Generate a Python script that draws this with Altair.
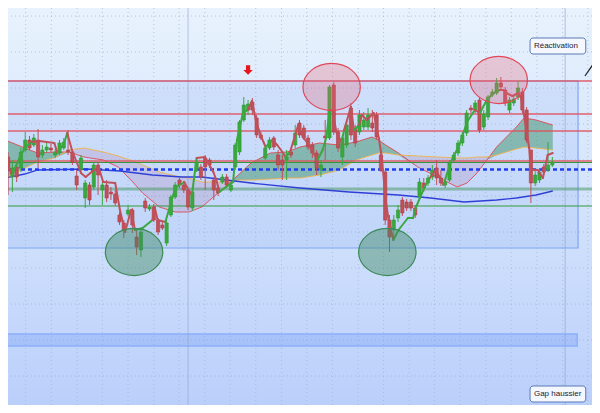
import altair as alt
import pandas as pd

# ---------------- data (prices) ----------------
bar_index = list(range(128))

open_ = [46.3, 44.3, 45.3, 45.2, 47.0, 48.0, 47.5, 48.0, 46.5, 47.0,
         47.2, 46.5, 46.7, 47.2, 47.0, 46.8, 44.4, 45.0, 42.2, 43.5,
         43.3, 45.5, 43.0, 43.5, 42.8, 42.6, 40.5, 39.7, 40.6, 41.0,
         38.3, 37.0, 41.9, 41.1, 41.3, 40.0, 39.5, 37.7, 40.5, 42.3,
         44.0, 43.5, 43.0, 41.2, 45.0, 45.3, 46.2, 46.0, 44.0, 43.2,
         43.8, 44.3, 43.0, 45.3, 46.8, 50.0, 51.0, 51.8, 50.2, 48.5,
         46.2, 47.2, 48.2, 46.5, 46.0, 46.0, 46.8, 47.5, 49.7, 49.2,
         48.2, 47.5, 46.7, 45.0, 48.4, 48.2, 53.5, 48.8, 46.3, 47.5,
         51.2, 49.2, 48.8, 49.3, 49.3, 49.7, 50.5, 46.5, 44.8, 40.0,
         39.0, 40.2, 42.0, 41.8, 41.8, 41.2, 42.3, 43.7, 43.7, 44.3,
         45.2, 44.2, 43.5, 44.0, 46.0, 46.7, 47.7, 48.7, 51.2, 51.0,
         52.0, 49.3, 50.3, 52.5, 52.7, 53.7, 53.0, 51.0, 51.7, 52.3,
         52.8, 51.0, 47.0, 43.7, 44.0, 45.3, 45.0, 45.5]

close = [45.0, 45.2, 44.3, 46.8, 48.0, 47.2, 48.2, 46.3, 47.0, 47.3,
         47.0, 46.8, 47.7, 47.8, 46.8, 45.8, 43.5, 46.2, 43.7, 42.0,
         45.5, 44.5, 43.5, 42.2, 42.6, 41.7, 39.8, 39.0, 41.0, 39.5,
         37.3, 38.8, 41.2, 41.3, 40.0, 38.8, 39.2, 39.7, 42.3, 43.5,
         43.5, 43.0, 41.3, 42.8, 45.8, 44.3, 45.3, 45.5, 43.0, 42.7,
         44.3, 43.5, 43.5, 47.5, 49.8, 51.5, 51.6, 51.0, 48.5, 48.2,
         47.2, 48.0, 47.3, 45.5, 45.5, 46.3, 46.5, 48.7, 48.5, 48.2,
         47.3, 46.7, 45.2, 45.5, 48.2, 53.3, 48.8, 47.2, 48.2, 49.5,
         48.5, 47.7, 50.5, 50.0, 50.5, 49.2, 48.3, 45.0, 40.0, 38.3,
         40.0, 41.0, 40.7, 41.2, 41.2, 40.5, 43.8, 43.2, 44.2, 45.0,
         44.2, 43.7, 43.8, 45.7, 46.5, 47.7, 48.5, 50.7, 51.0, 51.7,
         49.0, 50.6, 52.3, 52.8, 53.7, 53.3, 51.7, 52.0, 52.1, 53.2,
         51.0, 48.0, 43.7, 44.5, 44.8, 44.8, 45.5, 45.8]

high = [46.8, 46.0, 45.8, 47.2, 48.8, 48.4, 48.6, 49.1, 47.5, 47.7,
        47.6, 47.1, 48.0, 48.2, 49.0, 47.0, 45.0, 46.5, 44.0, 43.8,
        45.8, 45.8, 43.8, 44.0, 43.3, 43.0, 40.8, 40.0, 41.5, 41.2,
        39.0, 39.2, 42.2, 41.6, 41.6, 40.2, 39.8, 40.0, 42.5, 43.8,
        44.3, 43.8, 43.2, 43.0, 46.3, 45.6, 46.5, 46.2, 44.3, 43.5,
        44.6, 44.6, 43.8, 47.7, 50.0, 52.3, 52.0, 52.2, 50.5, 48.8,
        47.5, 48.3, 48.4, 47.0, 46.5, 47.0, 47.2, 49.5, 50.0, 49.5,
        48.5, 47.8, 47.0, 46.0, 50.0, 53.5, 53.8, 49.2, 48.5, 50.0,
        51.7, 49.5, 51.0, 50.8, 51.2, 51.0, 50.8, 47.0, 45.0, 40.5,
        40.5, 41.5, 42.3, 42.1, 42.1, 41.5, 44.2, 44.2, 44.5, 45.5,
        46.0, 45.0, 44.2, 46.0, 46.8, 48.0, 48.8, 51.0, 51.5, 52.0,
        52.3, 51.0, 52.5, 53.1, 54.2, 54.3, 53.3, 52.3, 52.4, 53.9,
        53.2, 51.3, 47.0, 45.0, 45.1, 45.6, 47.8, 46.3]

low = [42.5, 42.8, 43.8, 44.8, 46.8, 47.0, 47.3, 45.2, 46.2, 46.8,
       46.8, 46.2, 46.5, 47.0, 46.5, 45.5, 43.0, 44.8, 41.2, 41.5,
       43.0, 42.5, 41.5, 41.8, 42.0, 41.4, 39.5, 38.2, 40.4, 38.7,
       36.5, 36.3, 40.8, 40.9, 39.8, 38.5, 39.0, 37.4, 40.3, 42.1,
       43.2, 42.7, 41.0, 40.9, 44.8, 44.0, 43.0, 45.2, 42.0, 42.4,
       43.6, 43.2, 42.8, 45.0, 46.5, 49.8, 50.5, 50.5, 48.2, 48.0,
       46.0, 47.0, 47.0, 45.0, 44.0, 44.0, 46.2, 47.2, 48.2, 48.0,
       47.0, 46.2, 44.5, 44.3, 46.0, 48.0, 48.5, 46.8, 45.5, 47.2,
       48.0, 47.3, 48.5, 49.0, 49.0, 48.8, 48.0, 44.8, 39.5, 36.8,
       38.2, 39.8, 40.4, 40.9, 40.9, 40.2, 42.0, 42.8, 43.4, 44.0,
       43.5, 43.4, 43.2, 43.8, 45.8, 46.4, 47.4, 48.4, 50.7, 50.7,
       48.7, 49.0, 50.0, 52.3, 52.5, 53.0, 51.4, 50.7, 51.4, 52.0,
       50.7, 47.7, 41.7, 43.4, 43.7, 44.5, 44.8, 45.3]

# zigzag swing line (bar position, price) and direction of each leg
zz_i = [-0.7, 0.9, 2.75, 3.9, 5.5, 7.3, 10.8, 11.5, 13.1, 13.8, 14.9, 17.0, 18.1, 19.5,
        21.1, 22.2, 25.0, 26.1, 27.3, 28.7, 29.6, 31.4, 33.7, 34.2, 34.9, 36.7, 39.0,
        41.1, 41.7, 42.9, 44.0, 45.9, 47.9, 48.6, 49.3, 52.5, 53.4, 54.8, 56.0, 56.9,
        57.8, 58.9, 60.1, 61.7, 62.8, 64.0, 64.7, 65.8, 67.7, 68.8, 69.7, 71.1, 72.2,
        73.4, 74.3, 75.0, 75.7, 76.6, 77.8, 78.4, 80.0, 80.7, 81.9, 82.6, 83.7, 85.3,
        86.5, 87.2, 88.1, 88.8, 89.2, 89.9, 91.1, 93.3, 94.5, 95.2, 97.2, 98.4, 99.8,
        100.7, 101.6, 103.2, 105.3, 107.1, 108.9, 110.1, 111.7, 113.3, 114.7, 115.6,
        116.3, 117.7, 119.0, 119.7, 120.2, 121.6, 122.0, 123.6, 124.8, 125.9, 127.1]
zz_p = [46.2, 44.5, 46.3, 47.2, 47.8, 47.9, 47.7, 46.7, 47.7, 48.7, 47.0, 44.7, 44.3, 44.8,
        45.3, 43.8, 43.7, 41.0, 38.8, 41.0, 39.0, 39.2, 40.0, 41.3, 40.0, 39.8, 43.2,
        43.8, 43.3, 42.5, 46.2, 46.3, 44.8, 44.0, 42.8, 43.8, 48.0, 50.7, 51.0, 51.9,
        50.0, 48.5, 47.3, 48.0, 47.5, 46.8, 46.3, 46.8, 49.5, 48.3, 47.8, 46.8, 46.0,
        47.0, 48.3, 51.0, 51.0, 48.8, 47.7, 49.0, 51.3, 49.0, 49.5, 50.5, 50.0, 50.7,
        48.2, 46.3, 42.0, 40.0, 39.3, 38.0, 39.0, 40.2, 40.2, 41.3, 43.3, 44.2, 45.0,
        44.3, 43.5, 45.7, 47.5, 49.8, 51.0, 50.7, 52.0, 52.7, 53.0, 53.0,
        52.7, 52.4, 52.7, 52.2, 51.0, 47.2, 45.0, 45.0, 44.2, 46.5, 46.7]
zz_leg = list("duuuddduud" "dddddddddd" "uuddduuddu" "dddduuuudd" "dduddduddd"
              "dduuudddud" "dudddddddd" "duuuuuuddd" "uuuuduuudd" "dddddddddd")

# cloud spans
cloud_i = [-0.7, 3.9, 6.9, 10.8, 14.2, 17.7, 22.2, 25.7, 29.1, 31.4, 35.3, 39.0, 42.2,
           45.2, 49.8, 53.7, 56.7, 61.2, 65.1, 68.1, 72.7, 77.3, 81.2, 84.9, 86.5, 88.1,
           91.1, 95.6, 100.2, 104.8, 107.1, 109.4, 111.7, 114.0, 116.3, 118.6, 120.4,
           123.2, 127.1]
span_a = [48.0, 47.2, 46.7, 46.8, 46.8, 46.3, 46.0, 45.3, 43.8, 42.7, 41.3, 40.8, 40.8,
          41.3, 43.0, 44.5, 45.7, 46.7, 46.8, 47.3, 47.7, 47.5, 47.8, 48.3, 48.0, 47.5,
          46.7, 45.3, 44.3, 43.3, 43.7, 44.7, 46.0, 47.3, 48.3, 49.3, 50.2, 50.0, 49.5]
span_b = [44.2, 45.2, 45.8, 46.2, 47.0, 47.2, 46.8, 46.4, 45.9, 45.5, 44.8, 44.4, 44.2,
          43.8, 43.8, 44.0, 44.0, 44.1, 44.2, 44.2, 44.5, 45.0, 46.0, 46.5, 46.7, 46.7,
          46.5, 46.4, 46.3, 46.2, 46.2, 46.3, 46.3, 46.5, 46.8, 47.1, 47.3, 47.2, 47.0]

# long moving average
ma_i = [-0.7, 3.9, 6.9, 18.3, 26.1, 33.7, 40.6, 45.2, 56.7, 68.1, 79.6, 91.1, 98.6,
        106.4, 114.0, 118.6, 123.2, 127.1]
ma_p = [44.2, 44.6, 45.0, 45.1, 44.9, 44.5, 44.3, 44.3, 43.7, 43.2, 42.8, 42.5, 42.2,
        41.8, 42.0, 42.2, 42.5, 42.9]

# horizontal levels
red_levels = [53.9, 50.6, 48.9, 45.9]
green_levels = [45.75, 41.4]
green_wide_levels = [43.1]
pivot_levels = [45.05]

# zones
zone_x = [-0.7]
zone_x2 = [133.0]
zone_top = [53.9]
zone_bottom = [37.2]
gap_x = [-0.7]
gap_x2 = [132.8]
gap_top = [28.6]
gap_bottom = [27.4]

# session separators and grid
sep_i = [-0.2, 42.0, 130.0]
grid_i = [4.1, 10.1, 16.1, 22.0, 28.0, 34.0, 39.9, 45.9, 51.8, 57.8, 63.8, 69.7, 75.7,
          81.7, 87.6, 93.6, 99.5, 105.5, 111.5, 117.4, 123.4, 129.4, 135.3]
grid_p = [60.4, 56.8, 53.2, 49.6, 46.0, 42.4, 38.8, 35.2, 31.6, 28.0, 24.4, 20.8]

# pattern markers
top_i = [75.5, 114.5]
top_p = [53.3, 54.0]
bottom_i = [29.4, 88.5]
bottom_p = [36.8, 36.8]
arrow_i = [56.0]
arrow_p = [55.0]

# annotations
labels = ["Réactivation", "Gap haussier"]
label_i = [122.7, 122.7]
label_p = [57.4, 22.6]
box_i = [121.8, 121.8]
box_i2 = [134.8, 134.8]
box_top = [58.2, 23.4]
box_bottom = [56.6, 21.8]
trend_i = [134.6]
trend_i2 = [136.9]
trend_p = [54.4]
trend_p2 = [55.8]

# ---------------- chart ----------------
W, H = 584, 397
xs = alt.Scale(domain=[1.147, 135.09], nice=False, zero=False)
ys = alt.Scale(domain=[21.5, 61.2], nice=False, zero=False)


def X(f):
    return alt.X(f, type="quantitative", scale=xs, axis=None)


def Y(f):
    return alt.Y(f, type="quantitative", scale=ys, axis=None)


one = pd.DataFrame({"k": [0]})
bg = alt.Chart(one).mark_rect(
    color=alt.Gradient(
        gradient="linear",
        stops=[alt.GradientStop(color="#e8f2fd", offset=0),
               alt.GradientStop(color="#d3e3fc", offset=0.5),
               alt.GradientStop(color="#bbcffb", offset=1)],
        x1=0, x2=0, y1=0, y2=1)
).encode(x=alt.value(0), x2=alt.value(W), y=alt.value(0), y2=alt.value(H))

grid_v = alt.Chart(pd.DataFrame({"i": grid_i})).mark_rule(
    color="#9fb2d4", strokeWidth=1, strokeDash=[1, 3], opacity=0.7
).encode(x=X("i"))
grid_h = alt.Chart(pd.DataFrame({"p": grid_p})).mark_rule(
    color="#9fb2d4", strokeWidth=1, strokeDash=[1, 3], opacity=0.7
).encode(y=Y("p"))

zone = alt.Chart(pd.DataFrame({"x": zone_x, "x2": zone_x2, "t": zone_top, "b": zone_bottom})).mark_rect(
    fill="#6b98f2", fillOpacity=0.14, stroke="#7ea6f4", strokeWidth=1.2
).encode(x=X("x"), x2="x2", y=Y("t"), y2="b")

gap = alt.Chart(pd.DataFrame({"x": gap_x, "x2": gap_x2, "t": gap_top, "b": gap_bottom})).mark_rect(
    fill="#6b98f2", fillOpacity=0.3, stroke="#8cb0fb", strokeWidth=1.5
).encode(x=X("x"), x2="x2", y=Y("t"), y2="b")

cloud = pd.DataFrame({"i": cloud_i, "a": span_a, "b": span_b})
cloud["lo"] = cloud[["a", "b"]].min(axis=1)
cloud_up = alt.Chart(cloud).mark_area(color="#3f9468", opacity=0.5).encode(
    x=X("i"), y=Y("a"), y2="lo")
cloud_dn = alt.Chart(cloud).mark_area(color="#b07fae", opacity=0.25).encode(
    x=X("i"), y=Y("b"), y2="lo")
span_a_line = alt.Chart(cloud).mark_line(color="#e0424a", strokeWidth=1, opacity=0.85).encode(
    x=X("i"), y=Y("a"))
span_b_line = alt.Chart(cloud).mark_line(color="#f0b24a", strokeWidth=1, opacity=0.9).encode(
    x=X("i"), y=Y("b"))

ma = alt.Chart(pd.DataFrame({"i": ma_i, "p": ma_p})).mark_line(
    color="#2f3fd6", strokeWidth=1.3).encode(x=X("i"), y=Y("p"))

red_l = alt.Chart(pd.DataFrame({"p": red_levels})).mark_rule(
    color="#e0525c", strokeWidth=1.4, opacity=0.9).encode(y=Y("p"))
green_l = alt.Chart(pd.DataFrame({"p": green_levels})).mark_rule(
    color="#34973a", strokeWidth=1.2).encode(y=Y("p"))
green_w = alt.Chart(pd.DataFrame({"p": green_wide_levels})).mark_rule(
    color="#4f9a6a", strokeWidth=3, opacity=0.55).encode(y=Y("p"))
pivot = alt.Chart(pd.DataFrame({"p": pivot_levels})).mark_rule(
    color="#1f3cf2", strokeWidth=2.5, strokeDash=[4, 3]).encode(y=Y("p"))

seps = alt.Chart(pd.DataFrame({"i": sep_i})).mark_rule(
    color="#8ea2c8", strokeWidth=1, opacity=0.6).encode(x=X("i"))

candles = pd.DataFrame({"i": bar_index, "o": open_, "c": close, "h": high, "l": low})
candles["dir"] = ["up" if c >= o else "down" for o, c in zip(open_, close)]
wick = alt.Chart(candles).mark_rule(strokeWidth=1).encode(
    x=X("i"), y=Y("l"), y2="h",
    color=alt.Color("dir:N", scale=alt.Scale(domain=["up", "down"], range=["#3aa83e", "#c0505a"]), legend=None))
body = alt.Chart(candles).mark_bar(size=3.2, strokeWidth=0.6).encode(
    x=X("i"), y=Y("o"), y2="c",
    color=alt.Color("dir:N", scale=alt.Scale(domain=["up", "down"], range=["#4ed44e", "#e06464"]), legend=None),
    stroke=alt.Stroke("dir:N", scale=alt.Scale(domain=["up", "down"], range=["#2c9a30", "#b23a40"]), legend=None))

zz = pd.DataFrame({"x": zz_i[:-1], "x2": zz_i[1:], "y": zz_p[:-1], "y2": zz_p[1:], "leg": zz_leg})
zigzag = alt.Chart(zz).mark_rule(strokeWidth=2, strokeCap="round").encode(
    x=X("x"), x2="x2", y=Y("y"), y2="y2",
    color=alt.Color("leg:N", scale=alt.Scale(domain=["u", "d"], range=["#52cc4a", "#ee1c22"]), legend=None))

k = 0.82
c = 0.5523
ell = (f"M 1 0 C 1 {c*k:.4f} {c} {k} 0 {k} C {-c} {k} -1 {c*k:.4f} -1 0 "
       f"C -1 {-c*k:.4f} {-c} {-k} 0 {-k} C {c} {-k} 1 {-c*k:.4f} 1 0 Z")
tops = alt.Chart(pd.DataFrame({"i": top_i, "p": top_p})).mark_point(
    shape=ell, size=3300, filled=True, fill="#e8667a", fillOpacity=0.3,
    stroke="#e04858", strokeWidth=1.2, opacity=1).encode(x=X("i"), y=Y("p"))
bottoms = alt.Chart(pd.DataFrame({"i": bottom_i, "p": bottom_p})).mark_point(
    shape=ell, size=3300, filled=True, fill="#3f8a62", fillOpacity=0.45,
    stroke="#3c8a58", strokeWidth=1.2, opacity=1).encode(x=X("i"), y=Y("p"))

arrow = alt.Chart(pd.DataFrame({"i": arrow_i, "p": arrow_p})).mark_point(
    shape="M -0.45 -1 L 0.45 -1 L 0.45 0 L 1 0 L 0 1 L -1 0 L -0.45 0 Z",
    size=90, filled=True, fill="#e8161c", opacity=1).encode(x=X("i"), y=Y("p"))

trend = alt.Chart(pd.DataFrame({"x": trend_i, "x2": trend_i2, "y": trend_p, "y2": trend_p2})).mark_rule(
    color="#202020", strokeWidth=1.2).encode(x=X("x"), x2="x2", y=Y("y"), y2="y2")

boxes = alt.Chart(pd.DataFrame({"x": box_i, "x2": box_i2, "t": box_top, "b": box_bottom})).mark_rect(
    fill="#f4f7fd", stroke="#5a78b8", strokeWidth=1, cornerRadius=3
).encode(x=X("x"), x2="x2", y=Y("t"), y2="b")
texts = alt.Chart(pd.DataFrame({"i": label_i, "p": label_p, "t": labels})).mark_text(
    align="left", baseline="middle", fontSize=8, font="Liberation Sans", color="#1c2233"
).encode(x=X("i"), y=Y("p"), text="t:N")

chart = alt.layer(
    bg, grid_v, grid_h, zone, gap, cloud_up, cloud_dn, span_a_line, span_b_line,
    seps, green_w, red_l, green_l, ma, pivot, wick, body, zigzag, tops, bottoms,
    arrow, trend, boxes, texts
).properties(
    width=W, height=H, padding=0,
    autosize=alt.AutoSizeParams(type="none")
).configure_view(strokeWidth=0)

chart.save("out.html", embed_options={"renderer": "svg", "actions": False})
